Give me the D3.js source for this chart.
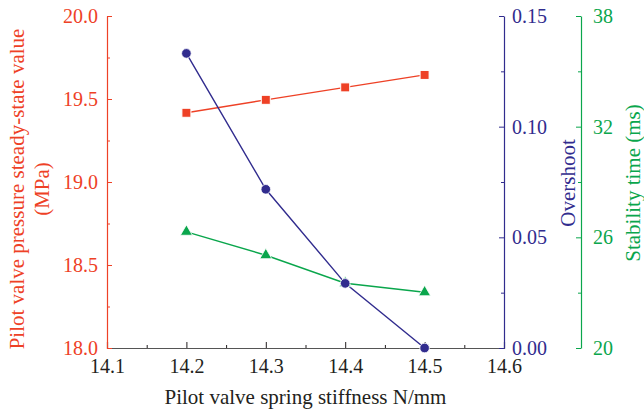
<!DOCTYPE html>
<html>
<head>
<meta charset="utf-8">
<script src="https://cdn.jsdelivr.net/npm/d3@7/dist/d3.min.js"></script>
<style>
  html, body { margin: 0; padding: 0; background: #fff; }
  svg { display: block; }
  svg text { font-family: "Liberation Serif", "DejaVu Serif", serif; }
</style>
</head>
<body>
<svg id="chart" width="644" height="413"></svg>
<script>
// Spring stiffness (N/mm) on the x axis
const stiffness = [14.2, 14.3, 14.4, 14.5];
// Pilot valve pressure steady-state value (MPa)
const pressure = [19.417, 19.495, 19.570, 19.645];
// Overshoot (ratio)
const overshoot = [0.1331, 0.0717, 0.0292, 0.0];
// Stability time (ms)
const stabilityTime = [26.3, 25.03, 23.51, 23.02];

const xTicks = [14.1, 14.2, 14.3, 14.4, 14.5, 14.6];
const pressureTicks = [18.0, 18.5, 19.0, 19.5, 20.0];
const overshootTicks = [0.00, 0.05, 0.10, 0.15];
const timeTicks = [20, 26, 32, 38];

const RED = "#EE4126", BLUE = "#312C8E", GREEN = "#0AA64C", INK = "#231F20";

const svg = d3.select("#chart");
const plotL = 107, plotR = 504, plotT = 16, plotB = 348, greenX = 581;

const x = d3.scaleLinear().domain([14.1, 14.6]).range([plotL, plotR]);
const yP = d3.scaleLinear().domain([18, 20]).range([plotB, plotT]);
const yO = d3.scaleLinear().domain([0, 0.15]).range([plotB, plotT]);
const yT = d3.scaleLinear().domain([20, 38]).range([plotB, plotT]);

const tickFont = 20, titleFont = 21;

function styleAxis(g, color) {
  g.attr("font-family", null).attr("font-size", tickFont);
  g.select(".domain").attr("stroke", color).attr("stroke-width", 1.2);
  g.selectAll(".tick line").attr("stroke", color).attr("stroke-width", 1);
  g.selectAll(".tick text").attr("fill", color);
}

// Short unlabelled ticks between the major ones
function minorAxis(axisFn, scale, ticks, color, transform) {
  svg.append("g").attr("transform", transform)
    .call(axisFn(scale).tickValues(ticks).tickSize(3).tickFormat(""))
    .call(g => g.select(".domain").remove())
    .call(g => g.selectAll(".tick line").attr("stroke", color));
}

// Bottom axis with inward ticks
minorAxis(d3.axisTop, x, [14.15, 14.25, 14.35, 14.45, 14.55], INK, `translate(0,${plotB})`);
const gx = svg.append("g").attr("transform", `translate(0,${plotB})`)
  .call(d3.axisTop(x).tickValues(xTicks).tickSizeOuter(0).tickSize(6).tickFormat(d3.format(".1f")));
styleAxis(gx, INK);
gx.select(".domain").attr("stroke", "#555");
gx.selectAll(".tick text").attr("y", 25).attr("dy", 0);

// Left axis: pressure
minorAxis(d3.axisRight, yP, [18.25, 18.75, 19.25, 19.75], RED, `translate(${plotL},0)`);
const gl = svg.append("g").attr("transform", `translate(${plotL},0)`)
  .call(d3.axisRight(yP).tickValues(pressureTicks).tickSize(5).tickSizeOuter(0).tickFormat(d3.format(".1f")));
styleAxis(gl, RED);
gl.selectAll(".tick text").attr("x", -9).attr("text-anchor", "end");

// Right axis: overshoot
minorAxis(d3.axisLeft, yO, [0.025, 0.075, 0.125], BLUE, `translate(${plotR},0)`);
const gr = svg.append("g").attr("transform", `translate(${plotR},0)`)
  .call(d3.axisLeft(yO).tickValues(overshootTicks).tickSize(5).tickSizeOuter(0).tickFormat(d3.format(".2f")));
styleAxis(gr, BLUE);
gr.selectAll(".tick text").attr("x", 8).attr("text-anchor", "start");

// Far right axis: stability time
minorAxis(d3.axisLeft, yT, [23, 29, 35], GREEN, `translate(${greenX},0)`);
const gg = svg.append("g").attr("transform", `translate(${greenX},0)`)
  .call(d3.axisLeft(yT).tickValues(timeTicks).tickSize(5).tickSizeOuter(0).tickFormat(d3.format("d")));
styleAxis(gg, GREEN);
gg.selectAll(".tick text").attr("x", 12).attr("text-anchor", "start");

// Axis titles
svg.append("text").attr("x", (plotL + plotR) / 2).attr("y", 404)
  .attr("text-anchor", "middle").attr("fill", INK).attr("font-size", titleFont)
  .text("Pilot valve spring stiffness N/mm");

const lt = svg.append("text").attr("transform", `translate(24,189) rotate(-90)`)
  .attr("text-anchor", "middle").attr("fill", RED).attr("font-size", titleFont);
lt.append("tspan").attr("x", 0).attr("dy", 0).text("Pilot valve pressure steady-state value");
lt.append("tspan").attr("x", 0).attr("dy", 25).text("(MPa)");

svg.append("text").attr("transform", `translate(575,183) rotate(-90)`)
  .attr("text-anchor", "middle").attr("fill", BLUE).attr("font-size", titleFont)
  .text("Overshoot");

svg.append("text").attr("transform", `translate(640,183) rotate(-90)`)
  .attr("text-anchor", "middle").attr("fill", GREEN).attr("font-size", titleFont)
  .text("Stability time (ms)");

// Series
const line = (ys, yScale) => d3.line().x((d, i) => x(stiffness[i])).y(d => yScale(d))(ys);

svg.append("path").attr("d", line(pressure, yP)).attr("fill", "none")
  .attr("stroke", RED).attr("stroke-width", 1.4);
svg.append("path").attr("d", line(stabilityTime, yT)).attr("fill", "none")
  .attr("stroke", GREEN).attr("stroke-width", 1.4);
svg.append("path").attr("d", line(overshoot, yO)).attr("fill", "none")
  .attr("stroke", BLUE).attr("stroke-width", 1.4);

svg.append("g").selectAll("rect").data(pressure).join("rect")
  .attr("x", (d, i) => x(stiffness[i]) - 4.5).attr("y", d => yP(d) - 4.5)
  .attr("width", 9).attr("height", 9)
  .attr("fill", RED).attr("stroke", "#fff").attr("stroke-width", 1);

const tri = d3.symbol().type(d3.symbolTriangle).size(62);
svg.append("g").selectAll("path").data(stabilityTime).join("path")
  .attr("d", tri)
  .attr("transform", (d, i) => `translate(${x(stiffness[i])},${yT(d)})`)
  .attr("fill", GREEN).attr("stroke", "#fff").attr("stroke-width", 0.8);

svg.append("g").selectAll("circle").data(overshoot).join("circle")
  .attr("cx", (d, i) => x(stiffness[i])).attr("cy", d => yO(d)).attr("r", 4.8)
  .attr("fill", BLUE).attr("stroke", "#fff").attr("stroke-width", 0.8);
</script>
</body>
</html>
